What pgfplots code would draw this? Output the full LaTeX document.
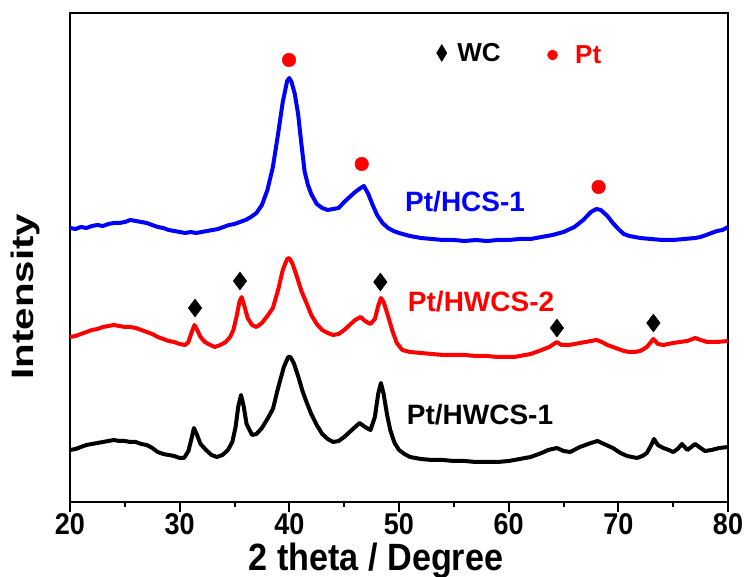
\documentclass[border=0pt]{standalone}
\usepackage{fontspec}
\setmainfont{Liberation Sans}
\newfontfamily\narrowfont[FakeStretch=0.9]{Liberation Sans}
\newfontfamily\wideFont[FakeStretch=1.3]{Liberation Sans}
\usepackage{pgfplots}
\pgfplotsset{compat=1.18}

\pgfplotstableread{
x I
20.0 274
20.5 273
21.0 275
21.5 274
22.0 276
22.5 277
23.0 276
23.5 278
24.0 279
24.5 279
25.0 280
25.5 282
26.0 281
26.5 280
27.0 279
27.5 277
28.0 275
28.5 274
29.0 272
29.5 271
30.0 270
30.5 269
31.0 270
31.5 269
32.0 270
32.5 271
33.0 272
33.5 273
34.0 275
34.5 277
35.0 278
35.5 280
36.0 282
36.5 285
37.0 289
37.5 297
38.0 312
38.5 335
39.0 370
39.4 400
39.8 421
40.0 424
40.2 420
40.5 408
40.8 388
41.1 358
41.4 330
41.7 317
42.0 308
42.5 298
43.0 294
43.5 292
44.0 293
44.5 294
45.0 300
45.5 305
46.0 310
46.5 314
46.8 316
47.2 308
47.6 297
48.0 287
48.5 279
49.0 274
49.5 271
50.0 269
51.0 266
52.0 264
53.0 263
54.0 262
55.0 262
56.0 261
57.0 262
58.0 261
59.0 262
60.0 262
61.0 263
62.0 263
63.0 265
64.0 267
65.0 270
66.0 275
66.8 282
67.5 290
68.0 293
68.4 292
69.0 286
69.5 279
70.0 273
70.5 268
71.0 266
72.0 264
73.0 263
74.0 262
75.0 262
76.0 263
77.0 264
77.5 265
78.0 267
78.5 269
79.0 271
79.5 272
80.0 275
}\hcsone

\pgfplotstableread{
x I
20.0 165
20.5 166
21.0 168
21.5 170
22.0 172
22.5 173
23.0 175
23.5 176
24.0 177
24.5 176
25.0 175
25.5 175
26.0 174
26.5 172
27.0 170
27.5 168
28.0 165
28.5 163
29.0 161
29.5 160
30.0 158
30.5 157
30.8 160
31.1 170
31.35 177
31.6 172
31.9 165
32.3 160
32.8 157
33.2 155
33.7 157
34.2 160
34.6 165
34.9 172
35.2 186
35.45 200
35.65 205
35.9 196
36.2 184
36.6 177
37.0 175
37.5 179
38.0 186
38.5 194
39.0 213
39.4 232
39.8 243
40.0 244
40.3 238
40.7 225
41.1 211
41.6 198
42.0 187
42.5 178
43.0 172
43.5 169
44.0 167
44.5 168
45.0 172
45.5 177
46.0 182
46.5 185
46.9 181
47.4 178
47.8 183
48.1 196
48.35 204
48.6 200
49.0 186
49.4 171
49.8 159
50.3 152
51.0 150
52.0 149
53.0 148
54.0 147
55.0 147
56.0 147
57.0 146
58.0 146
59.0 145
60.0 145
60.5 145
61.0 146
62.0 148
63.0 152
63.7 155
64.4 160
64.8 157
65.5 157
66.5 159
67.5 161
68.0 162
68.5 160
69.0 157
69.5 155
70.0 153
70.5 151
71.0 150
71.5 150
72.0 151
72.6 155
73.2 163
73.6 158
74.1 157
75.0 159
75.6 160
76.3 161
77.0 164
77.5 162
78.1 160
79.0 160
80.0 161
}\hwcstwo

\pgfplotstableread{
x I
20.0 52
20.5 53
21.0 55
21.5 57
22.0 58
22.5 59
23.0 60
23.5 61
24.0 62
24.5 61
25.0 61
25.5 60
26.0 60
26.5 58
27.0 57
27.5 54
28.0 50
28.5 48
29.0 47
29.5 46
30.0 44
30.4 44
30.8 51
31.05 62
31.3 74
31.55 68
31.9 58
32.4 52
32.9 47
33.4 45
33.9 47
34.4 52
34.8 60
35.1 75
35.35 96
35.6 107
35.85 95
36.1 78
36.6 67
37.0 68
37.5 74
38.0 83
38.5 93
39.0 115
39.5 135
39.9 145
40.1 145
40.4 139
40.8 126
41.2 111
41.6 99
42.0 88
42.5 77
43.0 68
43.5 63
44.0 60
44.5 61
45.0 65
45.5 70
46.0 75
46.4 79
46.9 75
47.4 72
47.8 85
48.1 108
48.35 119
48.6 108
48.9 88
49.2 72
49.6 59
50.0 52
50.5 48
51.0 45
52.0 43
53.0 42
54.0 42
55.0 41
56.0 41
57.0 40
58.0 40
59.0 40
60.0 41
61.0 43
62.0 45
63.0 49
63.6 52
64.4 54
65.0 51
65.6 50
66.5 55
67.5 59
68.1 61
68.7 58
69.5 54
70.2 49
70.8 46
71.7 44
72.2 46
72.6 49
73.0 57
73.25 63
73.6 57
74.1 54
74.6 52
75.0 50
75.4 53
75.8 58
76.3 52
77.0 58
77.5 54
77.9 51
78.5 52
79.2 54
80.0 55
}\hwcsone

\begin{document}
\begin{tikzpicture}
\begin{axis}[
    scale only axis,
    width=658pt, height=489pt,
    xmin=20, xmax=80,
    ymin=0, ymax=489,
    xtick={20,30,...,80},
    minor x tick num=1,
    ytick=\empty,
    xtick pos=bottom,
    tick align=outside,
    major tick length=10pt,
    minor tick length=5pt,
    every tick/.style={black, line width=2pt},
    axis line style={line width=2pt},
    /pgf/number format/assume math mode=true,
    xticklabel style={font=\narrowfont\bfseries\fontsize{30}{32}\selectfont, inner sep=1pt},
    xlabel={2 theta / Degree},
    xlabel style={font=\narrowfont\bfseries\fontsize{38}{40}\selectfont, at={(axis description cs:0.465,-0.083)}, anchor=north, inner sep=0pt},
    ylabel={Intensity},
    ylabel style={font=\wideFont\bfseries\fontsize{31}{33}\selectfont, at={(axis description cs:-0.068,0.42)}, anchor=center, rotate=0},
    clip=false,
]
\addplot[black, line width=4pt, line join=round] table {\hwcsone};
\addplot[red, line width=4pt, line join=round] table {\hwcstwo};
\addplot[blue, line width=4pt, line join=round] table {\hcsone};

% Pt reflections
\addplot[only marks, mark=*, mark size=6.8pt, red] coordinates {(39.97,442) (46.6,338) (68.2,315)};
% WC reflections
\addplot[only marks, mark=diamond*, mark size=9pt, black] coordinates {(31.4,194) (35.5,221) (48.3,220) (64.4,174) (73.2,179)};
% key
\addplot[only marks, mark=diamond*, mark size=8.5pt, mark options={xscale=0.8}, black] coordinates {(53.9,449)};
\addplot[only marks, mark=*, mark size=5pt, red] coordinates {(64.0,447)};

\node[anchor=west, inner sep=0pt, font=\bfseries\fontsize{26}{28}\selectfont] at (axis cs:55.3,449) {WC};
\node[anchor=west, inner sep=0pt, red, font=\bfseries\fontsize{26}{28}\selectfont] at (axis cs:66.05,447) {Pt};
\node[anchor=west, inner sep=0pt, blue, font=\bfseries\fontsize{28}{30}\selectfont] at (axis cs:50.55,300) {Pt/HCS-1};
\node[anchor=west, inner sep=0pt, red, font=\bfseries\fontsize{28}{30}\selectfont] at (axis cs:50.8,200) {Pt/HWCS-2};
\node[anchor=west, inner sep=0pt, black, font=\bfseries\fontsize{28}{30}\selectfont] at (axis cs:50.7,87) {Pt/HWCS-1};
\end{axis}
\pgfresetboundingbox
\path ([xshift=-70pt,yshift=-75pt]current axis.south west) rectangle ([xshift=19pt,yshift=13pt]current axis.north east);
\end{tikzpicture}
\end{document}
